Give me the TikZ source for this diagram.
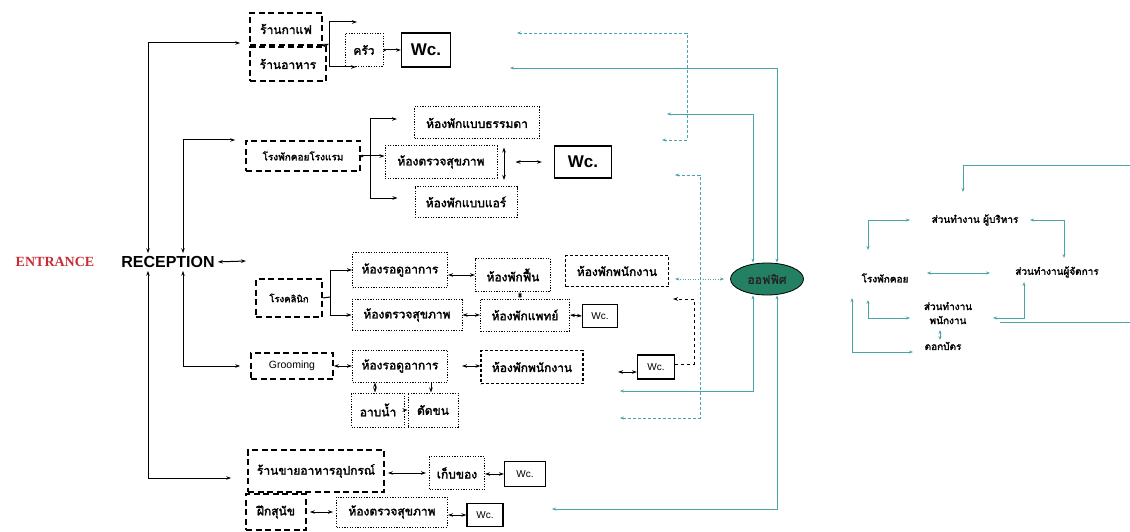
\documentclass[tikz,border=0pt]{standalone}
\usepackage{fontspec}
\setmainfont{Liberation Sans}
\newfontfamily\thai[Script=Thai, AutoFakeBold=2.2]{Loma}
\newfontfamily\entfont{Liberation Serif}
\usetikzlibrary{arrows.meta,shapes.geometric,calc}
\definecolor{tealline}{RGB}{72,166,168}
\definecolor{officegreen}{RGB}{36,128,98}
\definecolor{entred}{RGB}{200,45,55}
\begin{document}
\begin{tikzpicture}[x=1pt,y=-1pt,
    box/.style={inner sep=1pt, align=center, font=\thai\bfseries\fontsize{12}{14}\selectfont},
    dashbox/.style={box, draw, line width=1.7pt, dash pattern=on 6pt off 3.5pt},
    dotbox/.style={box, draw, line width=1pt, dash pattern=on 1.2pt off 1.4pt},
    staffbox/.style={box, draw, line width=1.2pt, dash pattern=on 3pt off 2pt},
    wcbig/.style={draw, line width=1.2pt, inner sep=1pt, font=\bfseries\fontsize{17}{20}\selectfont},
    wcsmall/.style={draw, line width=1.1pt, inner sep=1pt, font=\fontsize{10}{12}\selectfont},
    label/.style={inner sep=1pt, align=center, font=\thai\bfseries\fontsize{10}{12}\selectfont},
    biarrow/.style={line width=1pt, {Stealth[length=5pt,width=3.5pt]}-{Stealth[length=5pt,width=3.5pt]}},
    toarrow/.style={line width=1pt, -{Stealth[length=5pt,width=3.5pt]}},
    dotarrow/.style={line width=1pt, {Circle[length=2.5pt]}-{Stealth[length=5pt,width=3.5pt]}},
    tline/.style={tealline, line width=0.9pt, {Stealth[length=4pt,width=3pt]}-{Stealth[length=4pt,width=3pt]}},
    tdash/.style={tline, dash pattern=on 3pt off 2pt},
    tdot/.style={tline, dash pattern=on 1pt off 1.5pt}]
    \useasboundingbox (0,0) rectangle (1130,532);

    % Entrance and reception
    \node[font=\entfont\bfseries\fontsize{14}{16}\selectfont, text=entred, inner sep=0pt] (entrance) at (55,262) {ENTRANCE};
    \node[font=\bfseries\fontsize{16}{18}\selectfont, inner sep=0pt] (reception) at (168,262) {RECEPTION};
    \coordinate (recx) at (246,261);
    \draw[biarrow, shorten <=3pt] (reception.east) -- (recx);

    % Cafe and restaurant
    \node[dashbox, minimum width=72pt, minimum height=32pt] (cafe) at (286,29) {ร้านกาแฟ};
    \node[dashbox, minimum width=76pt, minimum height=34pt] (rest) at (288,64) {ร้านอาหาร};
    \node[dotbox, minimum width=38pt, minimum height=33pt] (kitchen) at (364,50) {ครัว};
    \node[wcbig, minimum width=49pt, minimum height=34pt] (wc1) at (426,50) {Wc.};
    \coordinate (br1) at (329,44);
    \coordinate (k1) at (357,22);
    \coordinate (k2) at (356,67);
    \draw[dotarrow] (cafe.south east) -- (br1);
    \draw[toarrow] (br1) |- (k1);
    \draw[toarrow] (br1) |- (k2);
    \draw[dotarrow] (kitchen) -- (wc1);

    % Hotel kennel
    \node[dashbox, minimum width=114pt, minimum height=30pt, font=\thai\bfseries\fontsize{10}{12}\selectfont] (hotel) at (303,156) {โรงพักคอยโรงแรม};
    \node[dotbox, minimum width=125pt, minimum height=32pt] (room1) at (477,123) {ห้องพักแบบธรรมดา};
    \node[dotbox, minimum width=112pt, minimum height=32pt] (exam1) at (441,162) {ห้องตรวจสุขภาพ};
    \node[dotbox, minimum width=102pt, minimum height=31pt] (room2) at (466,202) {ห้องพักแบบแอร์};
    \node[wcbig, minimum width=57pt, minimum height=32pt] (wc2) at (583,162) {Wc.};
    \coordinate (br2) at (370,157);
    \draw[dotarrow] (hotel.east) -- (hotel.east -| exam1.west);
    \draw[toarrow, shorten >=17pt] (br2) |- ([yshift=4pt]room1.west);
    \draw[toarrow, shorten >=17pt] (br2) |- ([yshift=4pt]room2.west);
    \draw[biarrow, shorten <=8pt, shorten >=6pt] ([xshift=27pt]room1.south) -- ([xshift=27pt]room1.south |- room2.north);
    \draw[biarrow, shorten <=18pt, shorten >=12pt] (exam1.east) -- (exam1.east -| wc2.west);

    % Clinic
    \node[dashbox, minimum width=66pt, minimum height=38pt, font=\thai\bfseries\fontsize{9.5}{11}\selectfont] (clinic) at (289,298) {โรงคลินิก};
    \node[dotbox, minimum width=95pt, minimum height=35pt] (wait1) at (400,270) {ห้องรอดูอาการ};
    \node[dotbox, minimum width=110pt, minimum height=31pt] (exam2) at (407,315) {ห้องตรวจสุขภาพ};
    \node[dotbox, minimum width=75pt, minimum height=33pt] (recov) at (513,275) {ห้องพักฟื้น};
    \node[staffbox, minimum width=103pt, minimum height=31pt] (staff1) at (617,271) {ห้องพักพนักงาน};
    \node[dotbox, minimum width=89pt, minimum height=32pt] (doctor) at (525,315) {ห้องพักแพทย์};
    \node[wcsmall, minimum width=35pt, minimum height=23pt] (wc3) at (600,316) {Wc.};
    \coordinate (br3) at (330,297);
    \draw[line width=1pt] (clinic.east) -- (br3);
    \draw[toarrow] (br3) |- (wait1.west);
    \draw[toarrow] (br3) |- (exam2.west);
    \draw[biarrow] (wait1.east |- recov) -- (recov.west);
    \draw[biarrow] ([xshift=7pt]recov.south) -- ([xshift=7pt]recov.south |- doctor.north);
    \draw[biarrow] (exam2.east) -- (doctor.west);
    \draw[biarrow] (doctor.east) -- (wc3.west);

    % Grooming
    \node[dashbox, minimum width=82pt, minimum height=26pt, font=\fontsize{10.5}{12}\selectfont] (groom) at (292,366) {Grooming};
    \node[dotbox, minimum width=95pt, minimum height=32pt] (wait2) at (400,366) {ห้องรอดูอาการ};
    \node[staffbox, minimum width=102pt, minimum height=33pt] (staff2) at (532,367) {ห้องพักพนักงาน};
    \node[dotbox, minimum width=53pt, minimum height=34pt] (bath) at (378,410) {อาบน้ำ};
    \node[dotbox, minimum width=50pt, minimum height=34pt] (cut) at (433,410) {ตัดขน};
    \node[wcsmall, minimum width=37pt, minimum height=24pt] (wc4) at (656,367) {Wc.};
    \coordinate (wc4x) at (618,372);
    \coordinate (dj1) at (694,299);
    \coordinate (dj2) at (673,299);
    \draw[biarrow] (groom.east) -- (wait2.west);
    \draw[biarrow, shorten <=14pt] (wait2.east) -- (wait2.east -| staff2.west);
    \draw[biarrow] ([xshift=-25pt]wait2.south) -- ([xshift=-25pt]wait2.south |- bath.north);
    \draw[toarrow] ([xshift=31pt]wait2.south) -- ([xshift=31pt]wait2.south |- cut.north);
    \draw[toarrow] (bath.east) -- (cut.west);
    \draw[biarrow] (wc4x) -- (wc4x -| wc4.west);
    \draw[toarrow, dashed] ([yshift=3pt]wc4.east) -| (dj1) -- (dj2);

    % Shop and training
    \node[dashbox, minimum width=136pt, minimum height=42pt] (shop) at (316,471) {ร้านขายอาหารอุปกรณ์};
    \node[dotbox, minimum width=55pt, minimum height=33pt] (store) at (457,473) {เก็บของ};
    \node[wcsmall, minimum width=41pt, minimum height=25pt] (wc5) at (525,474) {Wc.};
    \node[dashbox, minimum width=60pt, minimum height=36pt] (train) at (276,512) {ฝึกสุนัข};
    \node[dotbox, minimum width=111pt, minimum height=30pt] (exam3) at (392,512) {ห้องตรวจสุขภาพ};
    \node[wcsmall, minimum width=36pt, minimum height=23pt] (wc6) at (485,515) {Wc.};
    \draw[biarrow, shorten <=3pt, shorten >=3pt] (shop.east |- store) -- (store.west);
    \draw[biarrow] (store.east |- wc5) -- (wc5.west);
    \draw[biarrow, shorten <=3pt, shorten >=3pt] (train.east) -- (train.east -| exam3.west);
    \draw[biarrow] (exam3.east |- wc6) -- (wc6.west);

    % Reception spine
    \draw[biarrow, shorten <=3pt, shorten >=9pt] ([xshift=-20pt]reception.north) |- ([yshift=-14pt]cafe.west);
    \draw[biarrow, shorten <=3pt, shorten >=16pt] ([xshift=-20pt]reception.south) |- ([yshift=-7pt]shop.west);
    \draw[biarrow, shorten <=3pt, shorten >=10pt] ([xshift=15pt]reception.north) |- ([yshift=16pt]hotel.west);
    \draw[biarrow, shorten <=3pt, shorten >=10pt] ([xshift=15pt]reception.south) |- (groom.west);

    % Office
    \node[ellipse, draw, line width=0.8pt, fill=officegreen, minimum width=73pt, minimum height=32pt, inner sep=0pt,
          font=\thai\bfseries\fontsize{12}{14}\selectfont, text=black!85] (office) at (767,279) {ออฟฟิศ};
    \coordinate (t1) at (510,68);
    \coordinate (t2) at (667,114);
    \coordinate (t3) at (620,391);
    \coordinate (t4) at (552,509);
    \coordinate (td1) at (517,33);
    \coordinate (td2) at (687,140);
    \coordinate (td3) at (662,140);
    \coordinate (td4) at (675,175);
    \coordinate (td5) at (700,418);
    \coordinate (td6) at (620,418);
    \draw[tline] (t1) -| ([xshift=10pt]office.north);
    \draw[tline] (t2) -| ([xshift=-14pt]office.north);
    \draw[tline] (t3) -| ([xshift=-14pt]office.south);
    \draw[tline] (t4) -| ([xshift=10pt]office.south);
    \draw[tdash] (td1) -| (td2) -- (td3);
    \draw[tdash] (td4) -| (td5) -- (td6);
    \draw[tdot, shorten <=6pt, shorten >=6pt] (staff1.east |- office.west) -- (office.west);

    % Office sections
    \node[label] (exec) at (975,220) {ส่วนทำงาน ผู้บริหาร};
    \node[label] (kennel) at (885,278) {โรงพักคอย};
    \node[label] (mgr) at (1057,272) {ส่วนทำงานผู้จัดการ};
    \node[label, font=\thai\bfseries\fontsize{10}{14}\selectfont] (stw) at (948,313) {ส่วนทำงาน\\พนักงาน};
    \node[label] (clock) at (943,346) {ตอกบัตร};
    \coordinate (redge1) at (1130,165);
    \coordinate (redge2) at (1130,322);
    \coordinate (rjoin) at (1000,322);
    \draw[tline, {Stealth[length=4pt,width=3pt]}-] ($(exec)+(-12,-28)$) |- (redge1);
    \draw[tline] ($(kennel)+(-17,-28)$) |- ($(exec)+(-65,0)$);
    \draw[tline] ($(exec)+(55,0)$) -| ($(mgr)+(7,-14)$);
    \draw[tline] ($(kennel)+(42,-5)$) -- ($(kennel)+(105,-5)$);
    \draw[tline] ($(kennel)+(-17,22)$) |- ($(stw)+(-38,5)$);
    \draw[tline] ($(mgr)+(-33,10)$) |- ($(stw)+(45,5)$);
    \draw[tealline, line width=0.9pt] (redge2) -- (rjoin);
    \draw[tline] ($(stw)+(-8,17)$) -- ($(clock)+(-3,-6)$);
    \draw[tline] ($(kennel)+(-33,20)$) |- ($(clock)+(-30,6)$);
\end{tikzpicture}
\end{document}
